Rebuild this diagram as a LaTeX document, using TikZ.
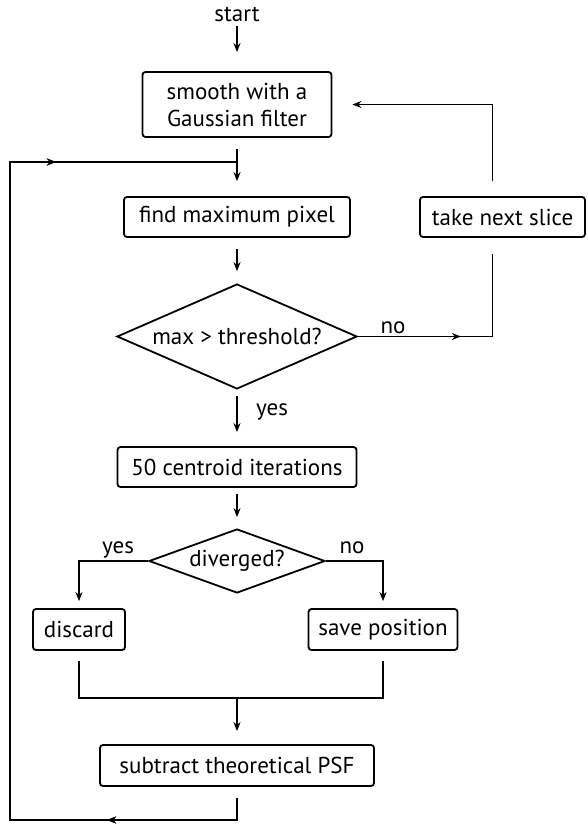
\documentclass[tikz,border=0pt]{standalone}
\usepackage{fontspec}
\setmainfont{PT Sans}
\usetikzlibrary{shapes.geometric, arrows.meta, decorations.markings}

\begin{document}
\begin{tikzpicture}[x=1pt, y=-1pt, line width=1.8pt,
    font=\fontsize{23}{27}\selectfont,
    box/.style={draw, rounded corners=3pt, inner sep=0pt, align=center},
    decision/.style={draw, diamond, inner sep=0pt},
    flow/.style={-{Stealth[length=9pt, width=7pt]}},
    midarrow/.style={postaction={decorate}, decoration={markings,
        mark=at position #1 with {\arrow{Stealth[length=9pt, width=7pt]}}}}]

    % Main column and loop lines
    \def\xc{237}
    \def\xleft{10}
    \def\yloop{162}
    \def\ybottom{820}
    \def\ymerge{698}

    \useasboundingbox (0,0) rectangle (587,826);

    % Boxes
    \node (start) at (\xc,14) {start};
    \node[box, minimum width=189pt, minimum height=65pt] (smooth) at (\xc,104.5) {smooth with a\\Gaussian filter};
    \node[box, minimum width=226pt, minimum height=40pt] (findmax) at (\xc,217) {find maximum pixel};
    \node[box, minimum width=165pt, minimum height=40pt] (nextslice) at (502.5,217) {take next slice};
    \node[decision, minimum width=240pt, minimum height=105pt,
          label=center:{max > threshold?}] (thresh) at (\xc,336.5) {};
    \node[box, minimum width=239pt, minimum height=40pt] (centroid) at (\xc,467) {50 centroid iterations};
    \node[decision, minimum width=176pt, minimum height=64pt,
          label=center:{diverged?}] (diverged) at (\xc,561) {};
    \node[box, minimum width=92pt, minimum height=41pt] (discard) at (79,629.5) {discard};
    \node[box, minimum width=149pt, minimum height=41pt] (savepos) at (383,629.5) {save position};
    \node[box, minimum width=274pt, minimum height=41pt] (subtract) at (\xc,765.5) {subtract theoretical PSF};

    % Labels
    \node[anchor=base] (nothresh) at (393,333) {no};
    \node[anchor=base] (yesthresh) at (272,415) {yes};
    \node[anchor=base] (yesdiv) at (118,553) {yes};
    \node[anchor=base] (nodiv) at (352,553) {no};

    % Helper points
    \coordinate (sliceout) at ([xshift=-10pt]nextslice.north);
    \coordinate (slicein) at ([xshift=-10pt]nextslice.south);
    \coordinate (merge) at (\xc,\ymerge);
    \coordinate (psfout) at ([yshift=-11pt]subtract.south);
    \coordinate (lowR) at (\xc,\ybottom);
    \coordinate (lowL) at (\xleft,\ybottom);
    \coordinate (upL) at (\xleft,\yloop);
    \coordinate (join) at (\xc,\yloop);

    % Arrows down the main column
    \draw[flow, shorten >=19pt] (start) -- (smooth);
    \draw[flow, shorten <=11pt, shorten >=15pt] (smooth) -- (findmax);
    \draw[flow, shorten <=11pt, shorten >=12pt] (findmax) -- (thresh);
    \draw[flow, shorten <=6pt, shorten >=14pt] (thresh) -- (centroid);
    \draw[flow, shorten <=6pt, shorten >=11pt] (centroid) -- (diverged);

    % Branches
    \draw[flow, shorten >=7pt] (diverged.west) -| (discard.north);
    \draw[flow, shorten >=7pt] (diverged.east) -| (savepos.north);
    \draw[shorten <=10pt, shorten >=10pt] (discard.south) |- (merge) -| (savepos.south);
    \draw[flow, shorten >=13pt] (merge) -- (subtract);

    % Back to the next slice
    \draw[midarrow=103pt, shorten >=16pt] (thresh.east) -| (slicein);
    \draw[flow, shorten <=15pt, shorten >=20pt] (sliceout) |- (smooth.east);

    % Loop back after subtraction
    \draw[midarrow=152pt, midarrow=953pt] (psfout) -- (lowR) -- (lowL) -- (upL) -- (join);

\end{tikzpicture}
\end{document}
